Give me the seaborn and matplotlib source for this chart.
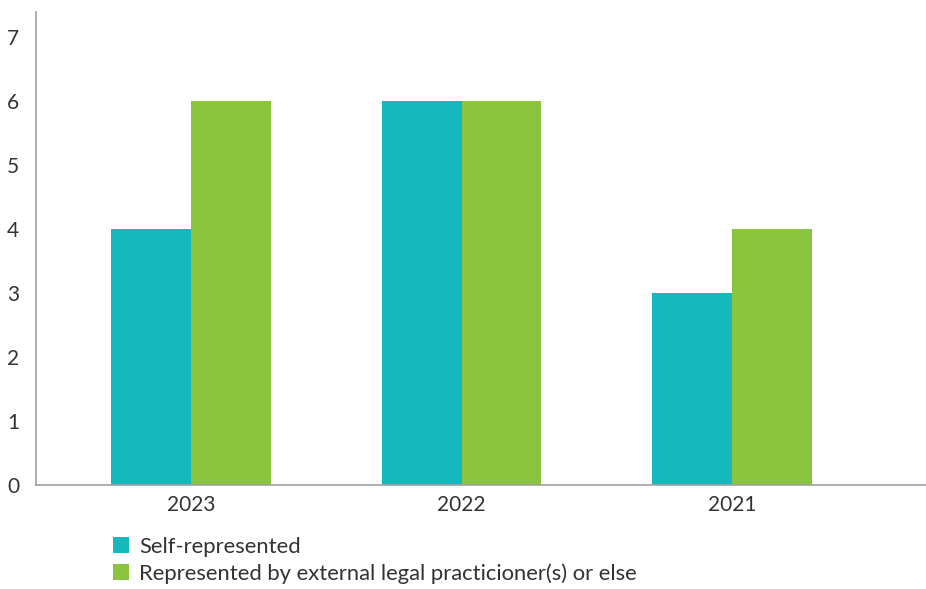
import matplotlib
matplotlib.use("Agg")
import matplotlib.pyplot as plt
import seaborn as sns
import pandas as pd

years = ["2023", "2022", "2021"]
series_names = ["Self-represented", "Represented by external legal practicioner(s) or else"]
self_rep = [4, 6, 3]
external = [6, 6, 4]
colors = ["#14B8BD", "#8BC53F"]

df = pd.DataFrame({
    "year": years * 2,
    "value": self_rep + external,
    "series": [series_names[0]] * 3 + [series_names[1]] * 3,
})

sns.set_theme(style="white")
plt.rcParams['font.family'] = ['Lato', 'DejaVu Sans']

fig = plt.figure(figsize=(9.26, 5.89), dpi=100)
ax = fig.add_axes([36/926, 1 - 485/589, (926-36)/926, (485-12)/589])

sns.barplot(data=df, x="year", y="value", hue="series", order=years,
            hue_order=series_names, palette=colors, width=0.59, gap=0,
            saturation=1, ax=ax, legend=True, linewidth=0, edgecolor="none")

ax.set_xlim(-0.573, 2.717)
ax.set_ylim(0, 7.39)
ax.set_yticks(range(0, 8))
ax.set_xlabel("")
ax.set_ylabel("")
for s in ["top", "right"]:
    ax.spines[s].set_visible(False)
for s in ["left", "bottom"]:
    ax.spines[s].set_color("#A0A0A0")
    ax.spines[s].set_linewidth(1.2)
ax.tick_params(axis="both", length=0, labelsize=15, colors="#333333")
ax.tick_params(axis="y", pad=12)
ax.tick_params(axis="x", pad=7)

handles, labels = ax.get_legend_handles_labels()
ax.get_legend().remove()
fig.legend(handles, labels, loc="upper left",
           bbox_to_anchor=(113/926, 1 - 537/589), frameon=False,
           borderpad=0, borderaxespad=0,
           fontsize=15.8, handlelength=0.75, handleheight=0.75,
           handletextpad=0.45, labelspacing=0.28, labelcolor="#333333")

fig.savefig("out.png", dpi=100)
